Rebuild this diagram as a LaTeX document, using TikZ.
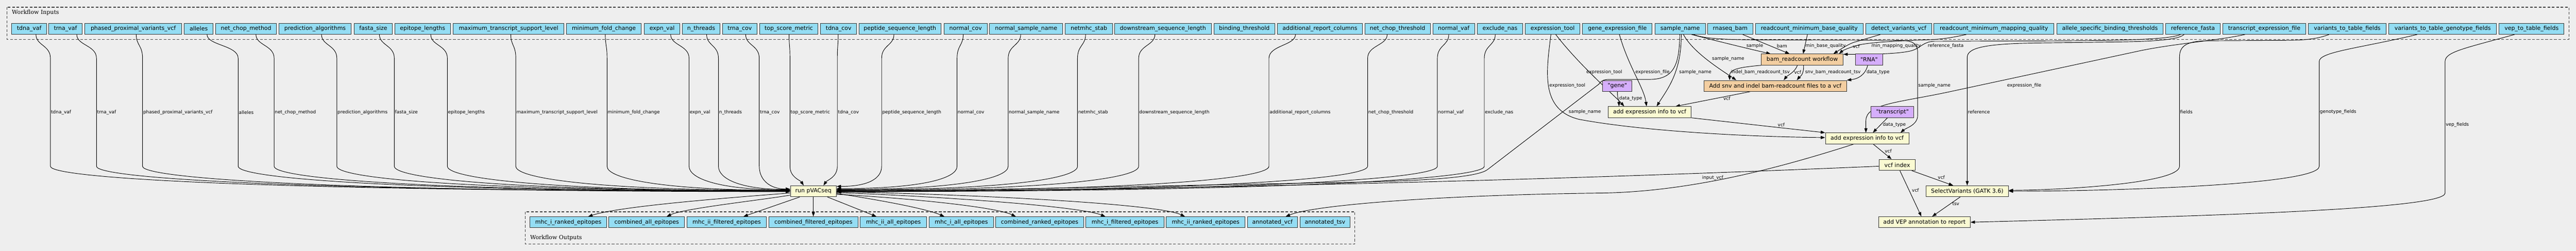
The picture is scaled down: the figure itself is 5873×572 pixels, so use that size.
\documentclass[tikz,border=0pt]{standalone}
\usepackage{fontspec}
\newfontfamily\dvsans{DejaVu Sans}
\newfontfamily\dvserif{DejaVu Serif}
\usetikzlibrary{arrows.meta,calc}
\definecolor{bgc}{HTML}{EEEEEE}
\definecolor{inblue}{HTML}{94DDF4}
\definecolor{stepyel}{HTML}{FAFAD2}
\definecolor{suborg}{HTML}{F3CEA1}
\definecolor{defpur}{HTML}{D5AEFC}
\pgfdeclarelayer{bglayer}
\pgfdeclarelayer{edgelayer}
\pgfsetlayers{bglayer,edgelayer,main}
\tikzset{
  nbox/.style={draw=black!80, line width=1.2pt, minimum height=25pt, inner sep=0pt, font=\dvsans\fontsize{12.9}{15}\selectfont},
  inbox/.style={nbox, fill=inblue},
  stepbox/.style={nbox, fill=stepyel},
  subbox/.style={nbox, fill=suborg},
  defbox/.style={nbox, fill=defpur},
  conn/.style={draw=black, line width=1.1pt, -{Triangle[length=10pt,width=7pt]}},
  elab/.style={font=\dvsans\fontsize{10.5}{12}\selectfont, inner sep=1pt},
  cluster/.style={draw=black!75, line width=1.3pt, dash pattern=on 6pt off 4pt},
  clab/.style={font=\dvserif\fontsize{12.9}{15}\selectfont, inner sep=0pt},
}
\begin{document}
\begin{tikzpicture}[x=1pt,y=-1pt]
\begin{pgfonlayer}{bglayer}
\fill[bgc] (0,0) rectangle (5873,572);
\draw[cluster] (16,16.4) rectangle (5857,89.4);
\draw[cluster] (1198,482.7) rectangle (3089,556);
\end{pgfonlayer}
\useasboundingbox (0,0) rectangle (5873,572);

\node[clab, anchor=base west] (inlab) at (27,32) {Workflow Inputs};
\node[clab, anchor=base west] (outlab) at (1208.5,546) {Workflow Outputs};

% input nodes
\foreach \nm/\lft/\rgt/\txt in {
tdnavaf/27/106/tdna\_vaf,
trnavaf/111/187.5/trna\_vaf,
phased/193/414.5/phased\_proximal\_variants\_vcf,
alleles/420/486/alleles,
ncm/492/630/net\_chop\_method,
predalg/636.5/800/prediction\_algorithms,
fastasize/807/895/fasta\_size,
epilen/900/1027/epitope\_lengths,
maxtsl/1033/1286/maximum\_transcript\_support\_level,
minfold/1291.5/1462/minimum\_fold\_change,
expnval/1469/1550/expn\_val,
nthreads/1555.5/1641.5/n\_threads,
trnacov/1647/1726/trna\_cov,
topscore/1731.5/1865/top\_score\_metric,
tdnacov/1871/1953/tdna\_cov,
peplen/1958.5/2145/peptide\_sequence\_length,
normcov/2152/2251/normal\_cov,
normsn/2256/2423/normal\_sample\_name,
netmhc/2429/2536/netmhc\_stab,
downstream/2541/2761.5/downstream\_sequence\_length,
bindthr/2768/2906/binding\_threshold,
addrep/2912/3106.5/additional\_report\_columns,
nct/3111.6/3261/net\_chop\_threshold,
normvaf/3266.6/3362/normal\_vaf,
exclnas/3368.6/3471/exclude\_nas,
exptool/3477.7/3602/expression\_tool,
gef/3608/3766.6/gene\_expression\_file,
sname/3773/3888/sample\_name,
rnabam/3893.5/3996/rnaseq\_bam,
rmbq/4002/4248/readcount\_minimum\_base\_quality,
dvv/4254/4404/detect\_variants\_vcf,
rmmq/4409/4683/readcount\_minimum\_mapping\_quality,
asbt/4689/4932/allele\_specific\_binding\_thresholds,
reffa/4937/5062/reference\_fasta,
tef/5067.5/5257/transcript\_expression\_file,
vttf/5263/5440/variants\_to\_table\_fields,
vttgf/5446/5692/variants\_to\_table\_genotype\_fields,
veptf/5697.6/5845.6/vep\_to\_table\_fields}{
  \pgfmathsetmacro\bw{\rgt-\lft}
  \pgfmathsetmacro\cx{(\lft+\rgt)/2}
  \node[inbox, minimum width=\bw pt] (\nm) at (\cx,65.5) {\txt};
}

% output nodes
\foreach \nm/\lft/\rgt/\txt in {
o1/1208.5/1383/mhc\_i\_ranked\_epitopes,
o2/1388/1560.6/combined\_all\_epitopes,
o3/1566/1747.4/mhc\_ii\_filtered\_epitopes,
o4/1753/1956/combined\_filtered\_epitopes,
o5/1961/2113/mhc\_ii\_all\_epitopes,
o6/2118.6/2265/mhc\_i\_all\_epitopes,
o7/2270/2470.7/combined\_ranked\_epitopes,
o8/2476/2653.7/mhc\_i\_filtered\_epitopes,
o9/2659/2838.6/mhc\_ii\_ranked\_epitopes,
annvcf/2843.7/2958.5/annotated\_vcf,
anntsv/2963.6/3078/annotated\_tsv}{
  \pgfmathsetmacro\bw{\rgt-\lft}
  \pgfmathsetmacro\cx{(\lft+\rgt)/2}
  \node[inbox, minimum width=\bw pt] (\nm) at (\cx,506.5) {\txt};
}

% step nodes
\node[defbox, minimum width=67pt] (gene) at (3687.5,196) {"gene"};
\node[stepbox, minimum width=190pt] (aexg) at (3761,255.5) {add expression info to vcf};
\node[subbox, minimum width=325pt] (asnv) at (4047.5,195.8) {Add snv and indel bam-readcount files to a vcf};
\node[subbox, minimum width=186.3pt] (brw) at (4108.85,135.8) {bam\_readcount workflow};
\node[defbox, minimum width=63pt] (rna) at (4261.2,135.8) {"RNA"};
\node[defbox, minimum width=97pt] (trs) at (4314.5,255.5) {"transcript"};
\node[stepbox, minimum width=190.3pt] (aext) at (4256.85,315.5) {add expression info to vcf};
\node[stepbox, minimum width=83pt] (vidx) at (4325.5,375.8) {vcf index};
\node[stepbox, minimum width=188pt] (selv) at (4485,435.8) {SelectVariants (GATK 3.6)};
\node[stepbox, minimum width=209pt] (avep) at (4387.5,506.5) {add VEP annotation to report};
\node[stepbox, minimum width=104.7pt] (pvac) at (1854.35,435.8) {run pVACseq};

\begin{pgfonlayer}{edgelayer}
% inputs -> run pVACseq, left side
\foreach \s/\dx/\xv/\lab/\ye in {
tdnavaf/15.5/115/tdna\_vaf/0,
trnavaf/25.75/220/trna\_vaf/0,
phased/6.85/325/phased\_proximal\_variants\_vcf/1,
alleles/19/543/alleles/0,
ncm/22.5/625/net\_chop\_method/0,
predalg/14.75/768/prediction\_algorithms/-1,
fastasize/14/899/fasta\_size/-1,
epilen/18.5/1020/epitope\_lengths/-1,
maxtsl/5/1176/maximum\_transcript\_support\_level/-2,
minfold/3.25/1384/minimum\_fold\_change/-2,
expnval/19.5/1571/expn\_val/-3,
nthreads/12.5/1638/n\_threads/-4,
trnacov/13.5/1731/trna\_cov/-5}{
  \pgfmathsetmacro\kk{0.7*(1802-\xv)}
  \draw[conn] ([xshift=\dx pt]\s.south) .. controls +(0,25) and +(0,-30) .. (\xv,133)
     -- node[elab,anchor=west]{\lab} (\xv,379)
     .. controls +(0,28) and +(-\kk,0) .. ($(pvac.west)+(0,\ye)$);
}
% inputs -> run pVACseq, right side
\foreach \s/\dx/\xv/\lab/\ye in {
peplen/-13.75/2010/peptide\_sequence\_length/-11,
normcov/-5.5/2182/normal\_cov/-6,
normsn/-12.5/2298.5/normal\_sample\_name/-4,
netmhc/-7.5/2456.6/netmhc\_stab/-3,
downstream/-18.25/2596/downstream\_sequence\_length/-2,
addrep/-55.75/2893/additional\_report\_columns/-1,
nct/-23.7/3118/net\_chop\_threshold/0,
normvaf/-11.3/3277/normal\_vaf/0,
exclnas/-10.8/3384/exclude\_nas/1}{
  \pgfmathsetmacro\kk{0.7*(\xv-1907)}
  \draw[conn] ([xshift=\dx pt]\s.south) .. controls +(0,25) and +(0,-30) .. (\xv,133)
     -- node[elab,anchor=west]{\lab} (\xv,379)
     .. controls +(0,28) and +(\kk,0) .. ($(pvac.east)+(0,\ye)$);
}
% top entries
\draw[conn] ([xshift=0.75pt]topscore.south) .. controls +(0,25) and +(0,-30) .. (1801,133)
   -- node[elab,anchor=west]{top\_score\_metric} (1801,379)
   .. controls +(0,25) and +(-8,-12) .. ($(pvac.north west)+(31,0)$);
\draw[conn] ([xshift=-1pt]tdnacov.south) .. controls +(0,25) and +(0,-30) .. (1909,133)
   -- node[elab,anchor=west]{tdna\_cov} (1909,379)
   .. controls +(0,25) and +(8,-12) .. ($(pvac.north west)+(76,0)$);

% sample_name -> run pVACseq
\draw[conn] ([xshift=-1pt]sname.south) .. controls (3829,150) and (3815,181) .. (3760,181)
   -- (3668,181) .. controls (3655,181) and (3650,185) .. (3645,192)
   -- (3392,386) .. controls (3375,400) and (3300,412) .. (3050,416)
   .. controls (2600,424) and (2200,434) .. ($(pvac.east)+(0,1)$)
   node[elab,anchor=west] at (3575,255) {sample\_name};
% vcf index -> run pVACseq
\draw[conn] ($(vidx.west)+(0,3)$) .. controls +(-700,30) and +(900,-8) .. ($(pvac.east)+(0,2)$)
   node[elab] at (3904.6,405) {input\_vcf};

% expression_tool
\draw[conn] ([xshift=-4pt]exptool.south) .. controls (3526,160) and (3510,250) .. (3600,272)
   .. controls (3750,300) and (4000,312) .. ($(aext.west)+(0,-2)$)
   node[elab,anchor=west] at (3531,195) {expression\_tool};
\draw[conn] ([xshift=7pt]exptool.south) .. controls (3600,148) and (3685,222) .. ([xshift=-58pt]aexg.north)
   node[elab,anchor=west] at (3615,165) {expression\_tool};
% gene_expression_file
\draw[conn] ([xshift=4.7pt]gef.south) .. controls (3712,150) and (3748,200) .. ([xshift=-7pt]aexg.north)
   node[elab,anchor=west] at (3727,165) {expression\_file};
% sample_name -> add expression (gene)
\draw[conn] ([xshift=2.5pt]sname.south) .. controls (3834,165) and (3800,205) .. ([xshift=16pt]aexg.north)
   node[elab,anchor=west] at (3827,165) {sample\_name};
% "gene"
\draw[conn] (gene.south) .. controls +(0,18) and +(0,-15) .. ([xshift=-70pt]aexg.north)
   node[elab,anchor=west] at (3690,225) {data\_type};
% Add snv -> add expression (gene)
\draw[conn] ([xshift=-57.5pt]asnv.south) -- ([xshift=59pt]aexg.north)
   node[elab] at (3937,224) {vcf};
% add expression (gene) -> add expression (transcript)
\draw[conn] (aexg.south east) -- (aext.north west)
   node[elab] at (4061,284) {vcf};

% into bam_readcount workflow
\draw[conn] ([xshift=26pt]sname.south) .. controls (3920,95) and (3990,112) .. ([xshift=-72pt]brw.north)
   node[elab] at (4000.7,104.3) {sample};
\draw[conn] ([xshift=28.25pt]rnabam.south) -- ([xshift=-28.85pt]brw.north)
   node[elab] at (4062.7,104.3) {bam};
\draw[conn] ([xshift=-4.3pt]rmbq.south) -- ([xshift=2pt]brw.north)
   node[elab,anchor=west] at (4115,104.3) {min\_base\_quality};
\draw[conn] ([xshift=-42pt]dvv.south) -- (4225,97) .. controls (4212,102) and (4200,110) .. ([xshift=71pt]brw.north)
   node[elab] at (4232,106) {vcf};
\draw[conn] ([xshift=-63pt]rmmq.south) .. controls (4440,88) and (4420,90) .. (4387,91)
   .. controls (4330,93) and (4270,96) .. (4240,102)
   .. controls (4215,108) and (4200,116) .. ([xshift=84pt]brw.north)
   node[elab] at (4323,104.3) {min\_mapping\_quality};
\draw[conn] ([xshift=-28pt]reffa.south) .. controls (4945,90) and (4850,92) .. (4700,93)
   -- (4410,94) .. controls (4385,95) and (4380,108) .. (4360,115)
   .. controls (4330,124) and (4250,124) .. ($(brw.north east)+(0,1)$)
   node[elab] at (4436,104.3) {reference\_fasta};

% sample_name -> add expression (transcript)
\draw[conn] ([xshift=30pt]sname.south) .. controls (3890,90) and (3950,91) .. (4050,91)
   -- (4330,92) .. controls (4362,92) and (4372,100) .. (4372,120)
   -- (4372,263) .. controls (4372,285) and (4345,292) .. ([xshift=76pt]aext.north)
   node[elab,anchor=west] at (4372,195) {sample\_name};
% sample_name -> Add snv
\draw[conn] ([xshift=7.5pt]sname.south) .. controls (3860,120) and (3925,160) .. ([xshift=-89pt]asnv.north)
   node[elab] at (3940,134.3) {sample\_name};
% bam_readcount -> Add snv
\draw[conn] (brw.south west) .. controls (3955,154) and (3943,160) .. ([xshift=-104pt]asnv.north)
   node[elab,anchor=west] at (3945,164.3) {indel\_bam\_readcount\_tsv};
\draw[conn] ([xshift=-11pt]brw.south) .. controls (4092,165) and (4075,172) .. ([xshift=19pt]asnv.north)
   node[elab,anchor=west] at (4089,164.3) {vcf};
\draw[conn] ([xshift=3pt]brw.south) .. controls (4113,172) and (4102,176) .. ([xshift=49pt]asnv.north)
   node[elab,anchor=west] at (4114,164.3) {snv\_bam\_readcount\_tsv};
% "RNA" -> Add snv
\draw[conn] ([xshift=-3pt]rna.south) .. controls (4252,172) and (4235,180) .. (asnv.north east)
   node[elab,anchor=west] at (4254,164.3) {data\_type};
% "transcript" -> add expression (transcript)
\draw[conn] ([xshift=-11.5pt]trs.south) -- ([xshift=13pt]aext.north)
   node[elab,anchor=west] at (4291,284.3) {data\_type};
% transcript_expression_file -> add expression (transcript)
\draw[conn] ([xshift=-44pt]tef.south) .. controls (5060,92) and (4950,100) .. (4873,117)
   -- (4450,208) .. controls (4330,234) and (4254,236) .. (4254,275)
   -- ([xshift=-2.85pt]aext.north)
   node[elab] at (4615,195) {expression\_file};

% SelectVariants inputs
\draw[conn] ([xshift=-20pt]reffa.south) .. controls (4965,92) and (4900,95) .. (4800,96)
   -- (4640,98) .. controls (4520,100) and (4485,110) .. (4485,131)
   -- (selv.north)
   node[elab,anchor=west] at (4485,255) {reference};
\draw[conn] ([xshift=-41.5pt]vttf.south) .. controls (5280,90) and (5250,92) .. (5200,92)
   -- (5030,93) .. controls (4985,94) and (4969,105) .. (4969,130)
   -- (4969,379) .. controls (4969,418) and (4700,433) .. ($(selv.east)+(0,-2)$)
   node[elab,anchor=west] at (4969,255) {fields};
\draw[conn] ([xshift=-58pt]vttgf.south) .. controls (5380,110) and (5287.5,118) .. (5287.5,140)
   -- (5287.5,379) .. controls (5287.5,422) and (4800,436) .. (selv.east)
   node[elab,anchor=west] at (5287.5,255) {genotype\_fields};
\draw[conn] ([xshift=-38.6pt]veptf.south) .. controls (5620,110) and (5574.5,118) .. (5574.5,140)
   -- (5574.5,440) .. controls (5574.5,478) and (5000,493) .. (avep.east)
   node[elab,anchor=west] at (5574.5,284.6) {vep\_fields};

% lower chain
\draw[conn] ([xshift=14pt]aext.south) -- ([xshift=-13pt]vidx.north)
   node[elab] at (4305,344) {vcf};
\draw[conn] ([xshift=33pt]vidx.south) -- ([xshift=-32pt]selv.north)
   node[elab] at (4426,404) {vcf};
\draw[conn] ([xshift=6pt]vidx.south) -- ([xshift=-7pt]avep.north)
   node[elab] at (4367,434) {vcf};
\draw[conn] ([xshift=-16pt]selv.south) -- ([xshift=17.5pt]avep.north)
   node[elab] at (4459,464.4) {tsv};
\draw[conn] ([xshift=-31pt]aext.south) .. controls (4050,385) and (3850,437) .. (3650,440)
   .. controls (3300,444) and (3000,466) .. ([xshift=30pt]annvcf.north);

% run pVACseq -> outputs
\draw[conn] ($(pvac.west)+(0,4)$) .. controls (1700,448) and (1420,468) .. ([xshift=45.25pt]o1.north);
\draw[conn] ($(pvac.west)+(0,9)$) .. controls (1720,458) and (1560,475) .. ([xshift=45.7pt]o2.north);
\draw[conn] ([xshift=-31pt]pvac.south) -- ([xshift=38.3pt]o3.north);
\draw[conn] (pvac.south) -- (pvac.south |- o4.north);
\draw[conn] ([xshift=32pt]pvac.south) -- ([xshift=-39pt]o5.north);
\draw[conn] ($(pvac.east)+(0,5)$) .. controls (2000,455) and (2110,475) .. ([xshift=-38.8pt]o6.north);
\draw[conn] ($(pvac.east)+(0,7)$) .. controls (2080,452) and (2270,472) .. ([xshift=-54.35pt]o7.north);
\draw[conn] ($(pvac.east)+(0,3)$) .. controls (2150,448) and (2460,470) .. ([xshift=-44.85pt]o8.north);
\draw[conn] ($(pvac.east)+(0,1)$) .. controls (2250,444) and (2640,465) .. ([xshift=-47.3pt]o9.north);
\end{pgfonlayer}
\end{tikzpicture}
\end{document}
